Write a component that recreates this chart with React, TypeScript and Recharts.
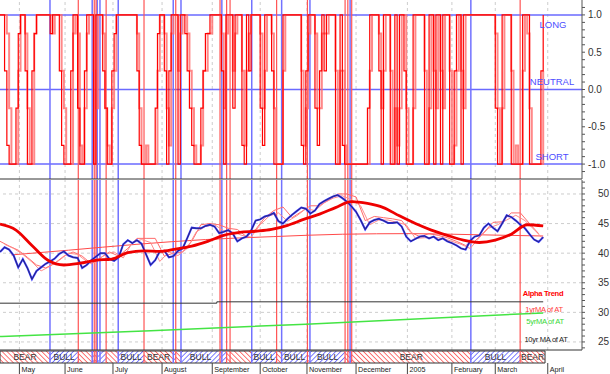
import React from 'react';
import { ComposedChart, Line, XAxis, YAxis, ReferenceLine, ReferenceArea } from 'recharts';

type Seg = { from: number; to: number; kind: 'bull' | 'bear'; label: string };

const FONT = '"Liberation Sans", Arial, Helvetica, sans-serif';
const W = 610;
const AXIS_W = 28;
const X_DOMAIN: [number, number] = [0, 255];

// x axis = trading days counted from the first bar (late April 2004)
const monthStarts = [8.5, 28.5, 49.5, 71, 93, 114, 134.5, 156, 178.5, 198, 217, 240];
const monthLabels = ['May', 'June', 'July', 'August', 'September', 'October', 'November', 'December', '2005', 'February', 'March', 'April'];

const topLabelTicks = [-1, -0.5, 0, 0.5, 1];
const lowLabelTicks = [25, 30, 35, 40, 45, 50];

// position signal, one value per day
const signalMain = [
  1, 1, .25, -.75, -1, -1, -1, -.25, .75, 1,
  1, .25, -1, -1, .25, .75, 1, 1, 1, 1,
  1, 1, .75, 1, 1, 1, .25, -.75, -1, -1,
  -1, .25, 1, 1, -.25, -1, -1, .25, 1, 1,
  1, -1, 1, 1, 1, .25, -.25, -1, -1, .25,
  .75, 1, 1, 1, 1, 1, 1, 1, 1, 1,
  .25, -.75, -1, -1, -1, -1, -1, -1, -.25, .75,
  1, 1, .25, -1, .25, 1, 1, 1, -1, 1,
  1, .75, .25, -.25, -.75, -1, -1, -1, -.25, .25,
  .75, .75, 1, 1, 1, 1, 1, .25, -1, 1,
  1, 1, -.25, 1, 1, 1, -.75, -1, 1, .25,
  1, 1, 1, 1, -.25, -.75, 1, 1, 1, .25,
  -1, -1, -1, -1, 1, 1, 1, 1, 1, 1,
  1, 1, -.75, -1, .25, 1, 1, 1, -.25, -.75,
  .25, 1, .25, 1, 1, 1, 1, -1, -1, 1,
  -.75, -1, -1, -1, -1, -1, -1, -1, -1, -1,
  -1, -.25, 1, 1, 1, 1, .25, -1, 1, 1,
  1, -1, -1, 1, -1, 1, 1, .25, -1, -1,
  -1, 1, 1, 1, 1, 1, -1, -1, 1, 1,
  -1, 1, 1, -1, 1, 1, 1, -1, -1, .25,
  1, 1, -1, 1, 1, 1, 1, 1, 1, 1,
  1, 1, 1, 1, 1, 1, 1, -.25, -1, -1,
  1, 1, 1, 1, -1, -1, -1, -1, -1, 1,
  1, 1, -1, -1, -1, -1, -1, .25, 1,
];

const signalSlow = [
  1, 1, 1, .75, -.25, -1, -1, -1, .25, 1,
  1, .75, -.25, -1, -1, .75, 1, 1, 1, 1,
  1, 1, 1, .75, 1, 1, 1, .25, -.25, -1,
  -1, -1, .75, 1, .75, -.75, -1, -.25, .75, 1,
  1, .25, -.25, 1, 1, .75, -.25, -.75, -1, -.25,
  .25, 1, 1, 1, 1, 1, 1, 1, 1, 1,
  .75, -.25, -1, -1, -.75, -1, -1, -1, -1, .25,
  1, 1, .75, -.25, -.75, .75, 1, 1, .25, .75,
  1, 1, .75, .25, -.25, -.75, -1, -1, -.75, .25,
  .25, .75, .75, 1, 1, 1, 1, .75, -.25, .75,
  1, 1, .25, .75, 1, 1, .25, -.75, .25, .75,
  1, 1, 1, 1, .75, -.25, .25, 1, 1, .75,
  -.25, -1, -1, -1, .25, 1, 1, 1, 1, 1,
  1, 1, .25, -.75, -.25, .75, 1, 1, .75, -.25,
  -.25, .75, .75, .75, 1, 1, 1, .25, -1, .25,
  .25, -.75, -1, -1, -1, -1, -1, -1, -1, -1,
  -1, -1, .25, 1, 1, 1, .75, -.25, .25, 1,
  1, .25, -1, -.25, -.75, -.25, 1, 1, -.25, -1,
  -1, -.25, 1, 1, 1, 1, .25, -1, -.25, 1,
  .25, -.25, 1, .25, -.25, 1, 1, .25, -1, -.75,
  .25, 1, .25, -.25, 1, 1, 1, 1, 1, 1,
  1, 1, 1, 1, 1, 1, 1, .75, -.25, -1,
  -.25, 1, 1, 1, .25, -1, -.75, -1, -1, .25,
  1, .75, -.25, -1, -1, -1, -1, -1, .25,
];

// price, every 2nd day
const price = [
  40.2, 41.0, 40.6, 39.6, 37.6, 39.0, 37.5, 35.6, 37.0, 37.6,
  38.2, 38.6, 39.1, 39.9, 40.3, 39.6, 39.3, 39.2, 37.5, 38.0,
  38.8, 39.4, 40.0, 40.0, 39.0, 38.7, 39.3, 41.5, 42.2, 41.7,
  42.2, 41.6, 39.8, 38.0, 38.8, 40.3, 40.4, 39.3, 39.5, 40.4,
  40.8, 42.5, 44.3, 44.2, 44.2, 44.6, 44.8, 44.5, 43.4, 43.6,
  43.9, 43.3, 42.0, 42.5, 42.8, 43.8, 45.5, 45.7, 46.2, 46.4,
  46.8, 45.4, 45.0, 45.8, 46.5, 47.1, 47.7, 47.5, 46.7, 47.2,
  48.3, 48.8, 49.2, 49.6, 49.8, 49.3, 48.7, 47.9, 47.0, 45.6,
  44.0, 45.2, 45.6, 45.8, 45.5, 45.1, 45.1, 45.2, 44.5, 42.8,
  42.0, 42.4, 42.8, 42.9, 42.5, 42.8, 42.2, 42.5, 42.0, 41.7,
  41.3, 40.8, 40.6, 42.1, 42.8, 43.0, 44.3, 45.0, 44.3, 43.7,
  45.0, 46.4, 46.1, 45.5, 44.8, 44.2, 43.2, 42.3, 41.9, 42.7,
];

// trailing bands, every 4th day (A from day 0, B from day 2)
const trailA = [
  42.0, 41.2, 40.5, 39.3, 38.0, 37.5, 38.3, 39.5, 40.2, 39.5,
  38.2, 39.2, 40.2, 39.5, 40.8, 42.5, 42.5, 42.5, 39.5, 40.0,
  40.2, 42.0, 44.8, 45.0, 44.8, 44.2, 44.0, 42.8, 44.0, 46.0,
  47.2, 47.8, 46.0, 47.0, 48.0, 48.0, 49.0, 50.0, 50.0, 49.5,
  45.5, 46.2, 46.0, 45.8, 45.5, 43.5, 42.8, 43.3, 43.0, 42.6,
  42.0, 41.3, 42.0, 43.5, 45.2, 45.3, 46.8, 46.8, 45.0, 43.3,
];
const trailB = [
  41.5, 40.8, 39.8, 38.5, 37.0, 37.8, 38.8, 40.0, 39.8, 38.6,
  38.5, 39.8, 40.2, 39.2, 41.8, 42.3, 41.8, 38.6, 40.2, 39.6,
  40.8, 43.6, 44.5, 44.8, 43.8, 43.6, 43.0, 42.7, 44.8, 46.3,
  46.8, 45.4, 46.3, 47.5, 47.2, 48.5, 49.3, 49.7, 49.0, 48.0,
  44.8, 45.6, 45.6, 45.2, 44.8, 42.5, 42.6, 42.7, 42.5, 42.0,
  41.5, 40.8, 42.6, 44.2, 44.8, 45.6, 46.4, 45.5, 44.0, 42.4,
];

// Alpha Trend, every 7th day
const alphaTrend = [
  44.9, 43.9, 41.3, 38.8, 38.0, 38.3, 38.8, 39.0, 40.1, 40.4,
  40.3, 40.7, 41.2, 42.0, 43.0, 43.5, 43.7, 44.0, 44.7, 45.7,
  46.6, 47.7, 48.7, 48.4, 47.7, 46.3, 45.0, 43.9, 43.0, 42.2,
  41.8, 42.2, 43.2, 44.8, 44.6,
];

const ma1Days = [5, 30, 60, 90, 120, 150, 180, 210, 238];
const ma1 = [39.7, 40.5, 41.5, 42.3, 42.8, 43.2, 43.3, 43.1, 42.9];
const ma5Days = [0, 66, 134, 238];
const ma5 = [25.9, 26.9, 28.0, 29.9];
const ma10Days = [0, 95, 238];
const ma10 = [31.55, 31.78, 31.78];

const bullSignals = [21.9, 40.4, 42.6, 43.8, 51.8, 75.9, 79.3, 97.2, 110.3, 123.4, 135.8, 153.4, 206.3];
const bearSignals = [34.3, 41.3, 42.1, 46.5, 63.1, 77.0, 96.4, 99.3, 100.8, 121.2, 134.7, 151.2, 152.4, 154.1, 227.9];

const regimes: Seg[] = [
  { from: 0, to: 21.9, kind: 'bear', label: 'BEAR' },
  { from: 21.9, to: 34.3, kind: 'bull', label: 'BULL' },
  { from: 34.3, to: 40.4, kind: 'bear', label: '' },
  { from: 40.4, to: 41.3, kind: 'bull', label: '' },
  { from: 41.3, to: 42.6, kind: 'bear', label: '' },
  { from: 42.6, to: 46.5, kind: 'bull', label: '' },
  { from: 46.5, to: 51.8, kind: 'bear', label: '' },
  { from: 51.8, to: 63.1, kind: 'bull', label: 'BULL' },
  { from: 63.1, to: 75.9, kind: 'bear', label: 'BEAR' },
  { from: 75.9, to: 77.0, kind: 'bull', label: '' },
  { from: 77.0, to: 79.3, kind: 'bear', label: '' },
  { from: 79.3, to: 96.4, kind: 'bull', label: 'BULL' },
  { from: 96.4, to: 97.2, kind: 'bear', label: '' },
  { from: 97.2, to: 99.3, kind: 'bull', label: '' },
  { from: 99.3, to: 110.3, kind: 'bear', label: '' },
  { from: 110.3, to: 121.2, kind: 'bull', label: 'BULL' },
  { from: 121.2, to: 123.4, kind: 'bear', label: '' },
  { from: 123.4, to: 134.7, kind: 'bull', label: 'BULL' },
  { from: 134.7, to: 135.8, kind: 'bear', label: '' },
  { from: 135.8, to: 151.2, kind: 'bull', label: 'BULL' },
  { from: 151.2, to: 153.4, kind: 'bear', label: '' },
  { from: 153.4, to: 154.1, kind: 'bull', label: '' },
  { from: 154.1, to: 206.3, kind: 'bear', label: 'BEAR' },
  { from: 206.3, to: 227.9, kind: 'bull', label: 'BULL' },
  { from: 227.9, to: 238.8, kind: 'bear', label: 'BEAR' },
];

const everyStep = (vals: number[], step: number, start = 0) => vals.map((v, i) => ({ d: start + i * step, v }));
const atDays = (days: number[], vals: number[]) => vals.map((v, i) => ({ d: days[i], v }));

const sigData = signalMain.map((v, i) => ({ d: i, fast: v, slow: signalSlow[i] }));
const bandData = [{ d: 0, v: 0 }, { d: regimes[regimes.length - 1].to, v: 1 }];

const topTicks = Array.from({ length: 23 }, (_, i) => Math.round((-1.1 + i * 0.1) * 10) / 10);
const lowTicks = Array.from({ length: 29 }, (_, i) => 24 + i);

const axisTick = (labelled: number[], digits: number) => (props: any) => {
  const { x, y, payload } = props;
  const v = Number(payload.value);
  if (!labelled.some((t) => Math.abs(t - v) < 1e-6)) return <g />;
  return (
    <text x={x} y={y} dy={3.5} fontSize={10} fill="#333" fontFamily={FONT}>
      {v.toFixed(digits)}
    </text>
  );
};

const MonthTick = (props: any) => {
  const { x, y, payload } = props;
  const i = monthStarts.indexOf(payload.value);
  return (
    <g>
      <line x1={x} x2={x} y1={y} y2={y + 11} stroke="#444" />
      <text x={x + 2} y={y + 9} fontSize={7.2} fill="#222" fontFamily={FONT}>
        {monthLabels[i]}
      </text>
    </g>
  );
};

const monthGrid = () =>
  monthStarts.map((m) => <ReferenceLine key={'m' + m} x={m} stroke="#cdcdcd" strokeDasharray="3 3" />);

const signalVerticals = () => [
  ...bullSignals.map((d) => <ReferenceLine key={'bu' + d} x={d} stroke="#7272ff" strokeWidth={1.5} />),
  ...bearSignals.map((d) => <ReferenceLine key={'be' + d} x={d} stroke="#ff5454" strokeWidth={1.2} />),
];

const App = () => {
  return (
    <div style={{ position: 'absolute', left: 0, top: 0, width: W, height: 374, background: '#fff', overflow: 'hidden' }}>
      <svg width={4} height={4} style={{ position: 'absolute', left: 0, top: 0 }}>
        <defs>
          <pattern id="hatchBear" width={3.5} height={3.5} patternUnits="userSpaceOnUse" patternTransform="rotate(-45)">
            <line x1={0} y1={0} x2={0} y2={3.5} stroke="#ff2e2e" strokeWidth={1.3} />
          </pattern>
          <pattern id="hatchBull" width={3.5} height={3.5} patternUnits="userSpaceOnUse" patternTransform="rotate(45)">
            <line x1={0} y1={0} x2={0} y2={3.5} stroke="#3a3aff" strokeWidth={1.3} />
          </pattern>
        </defs>
      </svg>

      {/* signal panel */}
      <div style={{ position: 'absolute', left: 0, top: 0 }}>
        <ComposedChart width={W} height={180} data={sigData} margin={{ top: 0, right: 0, bottom: 0, left: 0 }}>
          <XAxis dataKey="d" type="number" domain={X_DOMAIN} allowDataOverflow height={1} tick={false} tickLine={false} axisLine={{ stroke: '#333' }} />
          <YAxis
            orientation="right"
            width={AXIS_W}
            domain={[-1.2, 1.2]}
            allowDataOverflow
            ticks={topTicks}
            interval={0}
            tickSize={3}
            tickMargin={3}
            axisLine={{ stroke: '#555' }}
            tickLine={{ stroke: '#555' }}
            tick={axisTick(topLabelTicks, 1)}
          />
          {monthGrid()}
          {[1, 0, -1].map((v) => (
            <ReferenceLine key={'lvl' + v} y={v} stroke="#6a6aff" strokeWidth={1.5} />
          ))}
          {signalVerticals()}
          <Line dataKey="slow" type="stepAfter" stroke="#ff6a6a" strokeOpacity={0.8} strokeWidth={2} dot={false} activeDot={false} isAnimationActive={false} />
          <Line dataKey="fast" type="stepAfter" stroke="#ff0000" strokeWidth={1.2} dot={false} activeDot={false} isAnimationActive={false} />
        </ComposedChart>
      </div>

      {/* price panel */}
      <div style={{ position: 'absolute', left: 0, top: 180 }}>
        <ComposedChart width={W} height={171} margin={{ top: 0, right: 0, bottom: 0, left: 0 }}>
          <XAxis dataKey="d" type="number" domain={X_DOMAIN} allowDataOverflow height={1} tick={false} tickLine={false} axisLine={{ stroke: '#333' }} />
          <YAxis
            orientation="right"
            width={AXIS_W}
            domain={[23.64, 52.36]}
            allowDataOverflow
            ticks={lowTicks}
            interval={0}
            tickSize={3}
            tickMargin={13}
            axisLine={{ stroke: '#555' }}
            tickLine={{ stroke: '#555' }}
            tick={axisTick(lowLabelTicks, 0)}
          />
          {lowLabelTicks.map((v) => (
            <ReferenceLine key={'h' + v} y={v} stroke="#cdcdcd" strokeDasharray="3 3" />
          ))}
          {monthGrid()}
          {signalVerticals()}
          <Line data={atDays(ma10Days, ma10)} dataKey="v" type="stepAfter" stroke="#333" strokeWidth={1} dot={false} activeDot={false} isAnimationActive={false} />
          <Line data={atDays(ma5Days, ma5)} dataKey="v" type="monotone" stroke="#44e444" strokeWidth={1.5} dot={false} activeDot={false} isAnimationActive={false} />
          <Line data={atDays(ma1Days, ma1)} dataKey="v" type="monotone" stroke="#ff4a4a" strokeWidth={1} dot={false} activeDot={false} isAnimationActive={false} />
          <Line data={everyStep(trailA, 4)} dataKey="v" type="linear" stroke="#ff6b6b" strokeWidth={1} dot={false} activeDot={false} isAnimationActive={false} />
          <Line data={everyStep(trailB, 4, 2)} dataKey="v" type="linear" stroke="#ff8c8c" strokeWidth={1} dot={false} activeDot={false} isAnimationActive={false} />
          <Line data={everyStep(price, 2)} dataKey="v" type="linear" stroke="#3434ff" strokeWidth={2} dot={false} activeDot={false} isAnimationActive={false} />
          <Line data={everyStep(price, 2)} dataKey="v" type="linear" stroke="#222" strokeWidth={0.6} dot={false} activeDot={false} isAnimationActive={false} />
          <Line data={everyStep(alphaTrend, 7)} dataKey="v" type="monotone" stroke="#ee0000" strokeWidth={2.8} dot={false} activeDot={false} isAnimationActive={false} />
        </ComposedChart>
      </div>

      {/* bull / bear band and months */}
      <div style={{ position: 'absolute', left: 0, top: 350 }}>
        <ComposedChart width={W} height={24} data={bandData} margin={{ top: 1, right: AXIS_W, bottom: 0, left: 0 }}>
          <XAxis
            dataKey="d"
            type="number"
            domain={X_DOMAIN}
            allowDataOverflow
            height={11}
            ticks={monthStarts}
            interval={0}
            tickSize={0}
            tickMargin={0}
            tickLine={false}
            axisLine={false}
            tick={MonthTick}
          />
          <YAxis hide domain={[0, 1]} allowDataOverflow />
          {regimes.map((s) => (
            <ReferenceArea
              key={'r' + s.from}
              x1={s.from}
              x2={s.to}
              ifOverflow="visible"
              fill={s.kind === 'bear' ? 'url(#hatchBear)' : 'url(#hatchBull)'}
              fillOpacity={1}
              stroke="none"
              label={s.label ? { value: s.label, position: 'center', fontSize: 8.5, fill: '#333', fontFamily: FONT } : undefined}
            />
          ))}
          {signalVerticals()}
          <ReferenceArea x1={0} x2={regimes[regimes.length - 1].to} ifOverflow="visible" fill="none" fillOpacity={0} stroke="#333" strokeWidth={1} />
          <Line dataKey="v" stroke="none" dot={false} activeDot={false} isAnimationActive={false} />
        </ComposedChart>
      </div>

      <svg width={W} height={374} style={{ position: 'absolute', left: 0, top: 0, pointerEvents: 'none' }} fontFamily={FONT}>
        <g fontSize={9.5} fill="#4d4dff" textAnchor="middle">
          <text x={553} y={28}>LONG</text>
          <text x={552} y={85}>NEUTRAL</text>
          <text x={552} y={160}>SHORT</text>
        </g>
        <g fontSize={7.6} textAnchor="middle" letterSpacing={-0.3}>
          <text x={543} y={296} fill="#ff0000" fontWeight="bold">Alpha Trend</text>
          <text x={544} y={312} fill="#ff3b3b">1yrMA of AT</text>
          <text x={545} y={324} fill="#38d838">5yrMA of AT</text>
          <text x={546} y={342} fill="#222">10yr MA of AT</text>
        </g>
      </svg>
    </div>
  );
};

export default App;
